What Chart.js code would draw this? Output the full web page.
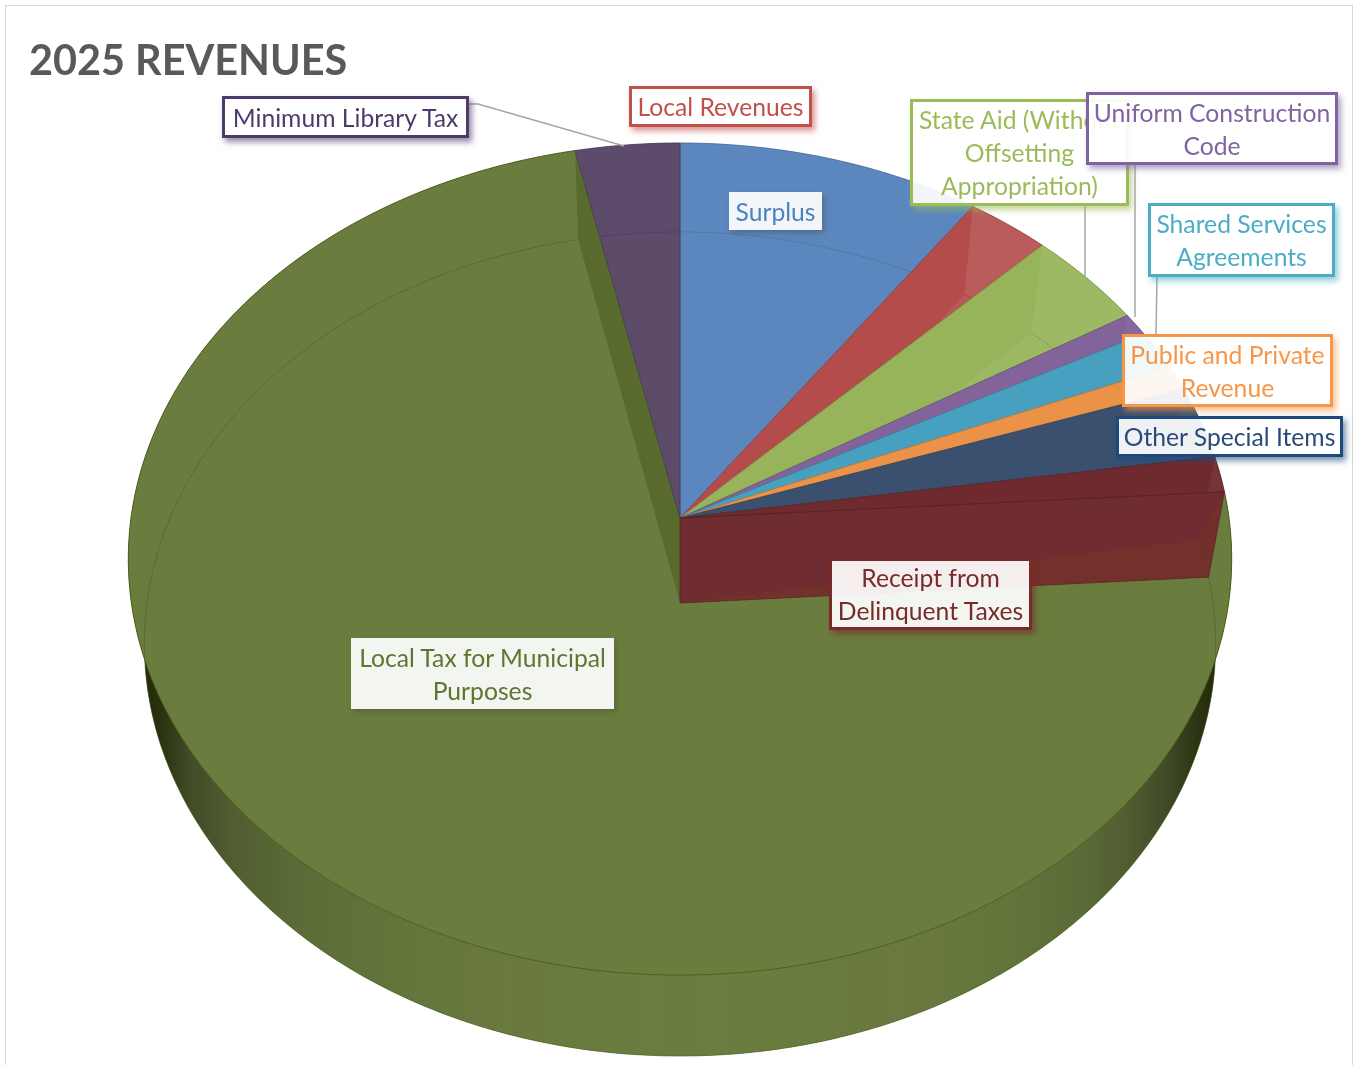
<!DOCTYPE html>
<html><head><meta charset="utf-8">
<script src="https://cdn.jsdelivr.net/npm/chart.js@4/dist/chart.umd.min.js"></script>
<style>
html,body{margin:0;padding:0;background:#fff;overflow:hidden}
#wrap{position:relative;width:1354px;height:1065px;overflow:hidden}
#frame{position:absolute;left:5px;top:5px;width:1348px;height:1100px;border:1px solid #d9d9d9;box-sizing:border-box}
canvas{position:absolute;left:0;top:0}
.lab{position:absolute;box-sizing:border-box;font-family:Lato,sans-serif;font-size:24.7px;line-height:33px;text-align:center;background:rgba(255,255,255,.92);white-space:pre-line;display:flex;align-items:center;justify-content:center}
</style></head><body>
<div id="wrap"><div id="frame"></div><canvas id="c" width="1354" height="1065"></canvas></div>
<script>
const titleText = '2025 REVENUES';
const categories = ['Surplus','Local Revenues','State Aid (Without Offsetting Appropriation)','Uniform Construction Code','Shared Services Agreements','Public and Private Revenue','Other Special Items','Receipt from Delinquent Taxes','Local Tax for Municipal Purposes','Minimum Library Tax'];
const shares = [9.78,2.69,3.89,0.89,1.53,0.97,2.83,1.40,72.65,3.36];
const colours = ['#5b87be','#b44c4c','#97b45a','#82649b','#48a0c0','#e99248','#3a506e','#6e2a2e','#6b7d3e','#5c4a6a'];
const textColours = ['#4f81bd','#c0504d','#9bbb59','#8064a2','#4bacc6','#f79646','#2a4a78','#772c2a','#5f7530','#4d3b6b'];
const borderColours = [null,'#c0504d','#9bbb59','#8064a2','#4bacc6','#f79646','#1f497d','#772c2a',null,'#4d3b6b'];
// how much each slice's inner faces differ in tone from its upper face
const faceContrast = [0.004,0.09,0.06,0.03,0.03,0.03,0.03,0.05,0,0.004];
// label boxes: left, top, right, bottom
const boxes = [[729,192,822,230],[629,86,812,127],[910,99,1129,206],[1086,92,1338,165],[1148,203,1335,277],[1122,334,1333,407],[1116,416,1343,457],[829,558,1032,630],[351,638,614,709],[222,96,469,138]];
const lineBreaks = ['Surplus','Local Revenues','State Aid (Without\nOffsetting\nAppropriation)','Uniform Construction\nCode','Shared Services\nAgreements','Public and Private\nRevenue','Other Special Items','Receipt from\nDelinquent Taxes','Local Tax for Municipal\nPurposes','Minimum Library Tax'];
const leaders = [[[469,104],[478,104],[624,146]],[[1085,206],[1085,278]],[[1135,165],[1135,317]],[[1157,277],[1156,334]]];
// perspective of the two disc faces
const topFace = {cx:680,cy:518,a:549,b:412,k:-0.0986};
const botFace = {cx:680,cy:603,a:533,b:408,k:-0.0995};

function proj(f,ang){const u=Math.cos(ang),v=Math.sin(ang),d=1+f.k*v;return [f.cx+f.a*u/d,f.cy+f.b*v/d];}
function arcPts(f,s,e){const n=Math.max(2,Math.ceil((e-s)/0.01));const r=[];for(let i=0;i<=n;i++)r.push(proj(f,s+(e-s)*i/n));return r;}
function poly(ctx,pts){ctx.beginPath();pts.forEach((p,i)=>i?ctx.lineTo(p[0],p[1]):ctx.moveTo(p[0],p[1]));ctx.closePath();}
function line(ctx,pts){ctx.beginPath();pts.forEach((p,i)=>i?ctx.lineTo(p[0],p[1]):ctx.moveTo(p[0],p[1]));}
function shade(hex,t,alpha){const n=parseInt(hex.slice(1),16);let c=[n>>16,(n>>8)&255,n&255];c=c.map(x=>Math.round(t<0?x*(1+t):x+(255-x)*t));return `rgba(${c[0]},${c[1]},${c[2]},${alpha===undefined?1:alpha})`;}
const apex=f=>[f.cx,f.cy];

const pie3d={id:'pie3d',
 beforeDatasetDraw(chart){
  const ctx=chart.ctx, arcs=chart.getDatasetMeta(0).data;
  const big=8;
  ctx.save();ctx.lineJoin='round';
  {const A=arcs[big],s=A.startAngle,e=A.endAngle,C=colours[big];
   const wall=arcPts(topFace,s,e).concat(arcPts(botFace,s,e).reverse());
   ctx.fillStyle=C;poly(ctx,[apex(botFace)].concat(arcPts(botFace,s,e)));ctx.fill();
   const g=ctx.createLinearGradient(128,0,1232,0);
   const st=[[0.0,'#1c2208'],[0.03,'#2a3210'],[0.056,'#414b28'],[0.092,'#4f5c30'],[0.156,'#5c6c38'],[0.25,'#64753b'],[0.34,'#69793f'],[0.5,'#6b7d3e'],[0.7,'#69793f'],[0.79,'#64753b'],[0.86,'#5c6c38'],[0.907,'#4f5c30'],[0.944,'#3e4826'],[0.971,'#2a3210'],[1,'#1c2208']];
   st.forEach(x=>g.addColorStop(x[0],x[1]));
   ctx.fillStyle=g;poly(ctx,wall);ctx.fill();
   ctx.strokeStyle='rgba(75,95,30,.95)';ctx.lineWidth=1;
   ctx.fillStyle=C;poly(ctx,[apex(topFace)].concat(arcPts(topFace,s,e)));ctx.fill();ctx.stroke();
   ctx.strokeStyle='rgba(75,95,35,.55)';
   line(ctx,arcPts(botFace,s,e));ctx.stroke();
   ctx.fillStyle='#586a2c';
   poly(ctx,[proj(topFace,e),proj(botFace,e),apex(botFace),apex(topFace)]);ctx.fill();
  }
  arcs.forEach((A,i)=>{ if(i===big)return;
   const s=A.startAngle,e=A.endAngle,C=colours[i],t=faceContrast[i];
   const top=[apex(topFace)].concat(arcPts(topFace,s,e));
   ctx.save();poly(ctx,top);ctx.clip();
   ctx.fillStyle=C;ctx.fillRect(0,0,1354,1065);
   ctx.fillStyle=shade(C,t*0.8);poly(ctx,[apex(botFace)].concat(arcPts(botFace,s,e)));ctx.fill();
   ctx.fillStyle=shade(C,t);poly(ctx,arcPts(topFace,s,e).concat(arcPts(botFace,s,e).reverse()));ctx.fill();
   ctx.strokeStyle=shade(C,-0.18,.6);ctx.lineWidth=1;line(ctx,arcPts(botFace,s,e));ctx.stroke();
   ctx.restore();
   if(i===7){ // this slice's end wall faces the viewer
     const te=proj(topFace,e),be=proj(botFace,e),inner=[be[0]-10,be[1]-37];
     ctx.fillStyle=shade(C,0.015);poly(ctx,[te,be,apex(botFace),apex(topFace)]);ctx.fill();
     ctx.strokeStyle='rgba(85,70,30,.55)';line(ctx,[apex(topFace),te]);ctx.stroke();
     ctx.fillStyle='rgba(125,60,30,.28)';poly(ctx,[apex(botFace),be,inner]);ctx.fill();
     ctx.fillStyle='rgba(125,60,30,.2)';poly(ctx,[te,be,inner]);ctx.fill();
     ctx.strokeStyle=shade(C,-0.15,.8);poly(ctx,[te,be,apex(botFace),apex(topFace)]);ctx.stroke();
   }
   ctx.strokeStyle=shade(C,-0.2,.8);ctx.lineWidth=1;poly(ctx,top);ctx.stroke();
  });
  ctx.restore();
  return false;
 },
 afterDraw(chart){
  const ctx=chart.ctx;ctx.save();ctx.strokeStyle='#a6a6a6';ctx.lineWidth=1.5;
  leaders.forEach(l=>{line(ctx,l);ctx.stroke();});
  ctx.restore();
 }
};
new Chart(document.getElementById('c'),{
 type:'pie',
 data:{labels:categories,datasets:[{data:shares,backgroundColor:colours,borderWidth:0}]},
 options:{responsive:false,animation:false,
  layout:{padding:{left:29,right:60,top:0,bottom:60}},
  plugins:{legend:{display:false},tooltip:{enabled:false},
   title:{display:true,text:titleText,align:'start',color:'#595959',font:{family:'Lato',size:41.4,weight:'bold',lineHeight:1},padding:{top:41,bottom:0}}}
 },
 plugins:[pie3d]
});
const wrap=document.getElementById('wrap');
categories.forEach((name,i)=>{
 const b=boxes[i],d=document.createElement('div');d.className='lab';
 d.textContent=lineBreaks[i];
 d.style.cssText=`left:${b[0]}px;top:${b[1]}px;width:${b[2]-b[0]}px;height:${b[3]-b[1]}px;color:${textColours[i]};`+
  (borderColours[i]?`border:3px solid ${borderColours[i]};box-shadow:3px 4px 6px ${borderColours[i]}99;`:`box-shadow:2px 3px 5px rgba(60,60,40,.35);`);
 wrap.appendChild(d);
});
</script></body></html>
